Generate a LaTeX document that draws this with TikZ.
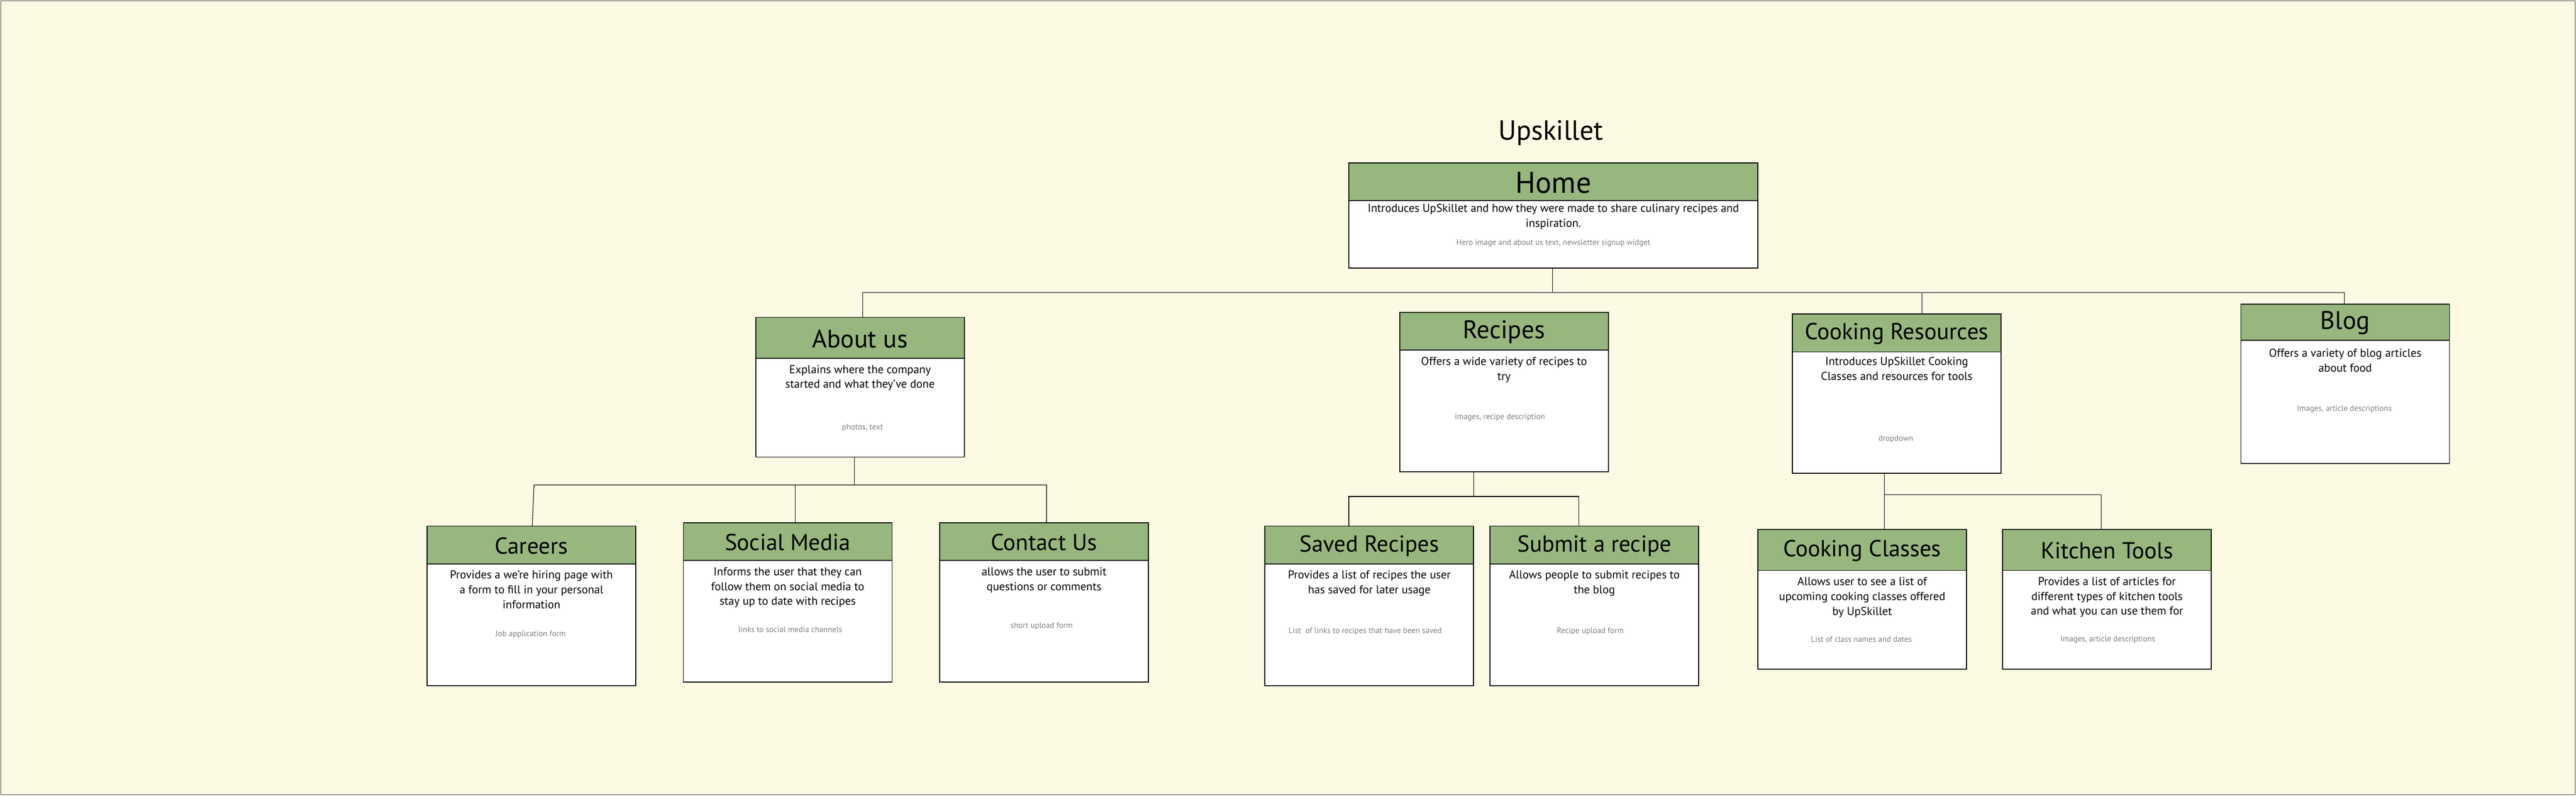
\documentclass[tikz,border=0pt]{standalone}
\usepackage{fontspec}
\setmainfont{PT Sans}
\usetikzlibrary{fit}
\definecolor{bg}{HTML}{FDFAE3}
\definecolor{hdr}{HTML}{97B77F}
\definecolor{gtx}{HTML}{808080}
\begin{document}
\begin{tikzpicture}[x=0.05cm,y=-0.05cm,
  title/.style={font=\fontsize{20}{22}\selectfont},
  desc/.style={font=\fontsize{10}{12.8}\selectfont,align=center,anchor=north,inner sep=0},
  grey/.style={font=\fontsize{7}{8}\selectfont,text=gtx,inner sep=0},
  link/.style={draw=black,line width=0.5pt}]
\fill[bg] (0,0) rectangle (1568,484);
\draw[black!70,line width=0.6pt] (0.5,0.5) rectangle (1567.5,483.5);
\useasboundingbox (0,0) rectangle (1568,484);
\newcommand\pgbox[9]{%
  \draw[fill=hdr,line width=0.8pt] (#2,#4) rectangle (#3,#5);
  \draw[fill=white,line width=0.8pt] (#2,#5) rectangle (#3,#6);
  \node[fit={(#2,#4)(#3,#6)},inner sep=0] (#1) {};
  \node[title] (#1t) at ({(#2+#3)/2},{(#4+#5)/2+0.5}) {#7};
  \node[desc] (#1d) at ({(#2+#3)/2},#8) {#9};}
\newcommand\gr[3]{\node[grey] (#1g) at (#2,#3) {#1};}

\node[font=\fontsize{24}{26}\selectfont] (ttl) at (944,81) {Upskillet};

\pgbox{home}{821}{1070}{99}{122}{163}{\fontsize{26}{28}\selectfont Home}{124}{Introduces UpSkillet and how they were made to share culinary recipes and\\inspiration.}
\node[grey] (homeg) at (945.5,148) {Hero image and about us text, newsletter signup widget};

\pgbox{about}{460}{587}{193}{218}{278}{\fontsize{22}{24}\selectfont About us}{222}{Explains where the company\\started and what they've done}
\node[grey] (aboutg) at (525,260) {photos, text};

\pgbox{rec}{852}{979}{190}{213}{287}{\fontsize{22}{24}\selectfont Recipes}{217}{Offers a wide variety of recipes to\\try}
\node[grey] (recg) at (913,254) {images, recipe description};

\pgbox{cres}{1091}{1218}{191}{214}{288}{Cooking Resources}{217}{Introduces UpSkillet Cooking\\Classes and resources for tools}
\node[grey] (cresg) at (1154,267) {dropdown};

\pgbox{blog}{1364}{1491}{185}{207}{282}{\fontsize{22}{24}\selectfont Blog}{212}{Offers a variety of blog articles\\about food}
\node[grey] (blogg) at (1427,249) {Images, article descriptions};

\pgbox{car}{260}{387}{320}{343}{417}{Careers}{347}{Provides a we're hiring page with\\a form to fill in your personal\\information}
\node[grey] (carg) at (323,386) {Job application form};

\pgbox{soc}{416}{543}{318}{341}{415}{Social Media}{345}{Informs the user that they can\\follow them on social media to\\stay up to date with recipes}
\node[grey] (socg) at (481,383) {links to social media channels};

\pgbox{con}{572}{699}{318}{341}{415}{Contact Us}{345}{allows the user to submit\\questions or comments}
\node[grey] (cong) at (634,381) {short upload form};

\pgbox{sav}{770}{897}{320}{343}{417}{Saved Recipes}{347}{Provides a list of recipes the user\\has saved for later usage}
\node[grey] (savg) at (831,384) {List\ \ of links to recipes that have been saved};

\pgbox{sub}{907}{1034}{320}{343}{417}{Submit a recipe}{347}{Allows people to submit recipes to\\the blog}
\node[grey] (subg) at (968,384) {Recipe upload form};

\pgbox{ccl}{1070}{1197}{322}{347}{407}{Cooking Classes}{351}{Allows user to see a list of\\upcoming cooking classes offered\\by UpSkillet}
\node[grey] (cclg) at (1133,389) {List of class names and dates};

\pgbox{kit}{1219}{1346}{322}{347}{407}{Kitchen Tools}{351}{Provides a list of articles for\\different types of kitchen tools\\and what you can use them for}
\node[grey] (kitg) at (1283,389) {Images, article descriptions};

% connectors
\coordinate (h1) at (945,178);
\draw[link] (home.south -| h1) -- (h1);
\draw[link] (about.north -| 525,0) -- (525,178) -- (1427,178) -- (blog.north -| 1427,0);
\draw[link] (1170,178) -- (cres.north -| 1170,0);

\draw[link] (about.south -| 520,0) -- (520,295);
\draw[link] (car.north -| 324,0) -- (325,295) -- (637,295) -- (con.north -| 637,0);
\draw[link] (484,295) -- (soc.north -| 484,0);

\draw[link] (rec.south -| 897,0) -- (897,302);
\draw[link] (sav.north -| 821,0) -- (821,302) -- (961,302) -- (sub.north -| 961,0);

\draw[link] (cres.south -| 1147,0) -- (ccl.north -| 1147,0);
\draw[link] (1147,301) -- (1279,301) -- (kit.north -| 1279,0);
\end{tikzpicture}
\end{document}
